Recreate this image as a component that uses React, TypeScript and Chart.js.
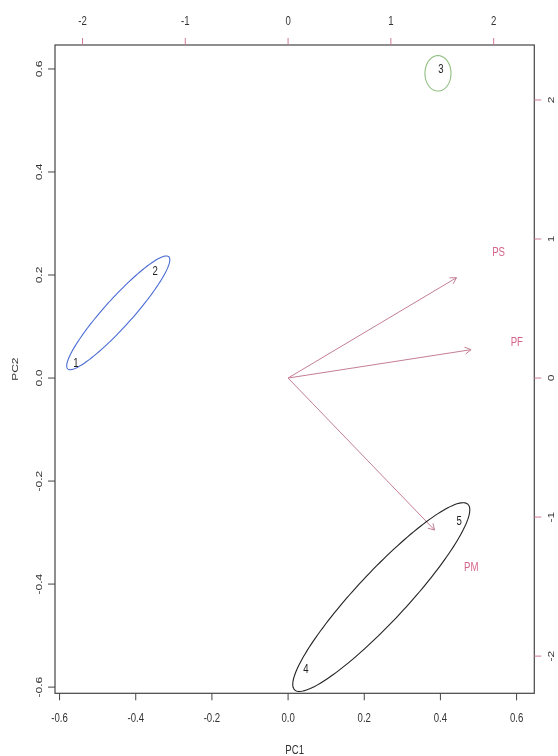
import React, { useEffect, useRef } from 'react';
import { Chart, registerables } from 'chart.js';

Chart.register(...registerables);

// ---- data ----
const scoreLabels = ['1', '2', '3', '4', '5'];
const pc1Scores = [-0.557, -0.349, 0.401, 0.047, 0.449];
const pc2Scores = [0.028, 0.207, 0.598, -0.566, -0.278];

const variableLabels = ['PS', 'PF', 'PM'];
const loadingPC1 = [2.048, 2.225, 1.782];
const loadingPC2 = [0.902, 0.255, -1.367];
const arrowShrink = 0.8;

const primaryTicks = [-0.6, -0.4, -0.2, 0, 0.2, 0.4, 0.6];
const primaryTickLabels = ['-0.6', '-0.4', '-0.2', '0.0', '0.2', '0.4', '0.6'];
const secondaryTicks = [-2, -1, 0, 1, 2];
const secondaryTickLabels = ['-2', '-1', '0', '1', '2'];

const primaryMin = -0.612;
const primaryMax = 0.6465;
const secondaryRatio = 3.705;

// group ellipses: centre, half major-axis vector, half minor-axis vector (PC units)
const groupCenterX = [-0.4459, 0.3936, 0.2447];
const groupCenterY = [0.1266, 0.5915, -0.4252];
const groupMajorX = [0.1326, 0.0342, 0.2274];
const groupMajorY = [0.1089, 0.0, 0.1802];
const groupMinorX = [0.0273, 0.0, 0.0481];
const groupMinorY = [-0.0182, 0.0344, -0.0331];
const groupColors = ['#4a6cd4', '#8fbf80', '#222222'];

const xTitle = 'PC1';
const yTitle = 'PC2';

// ---- styles ----
const FONT = '"Liberation Sans", Arial, sans-serif';
const TEXT_SX = 0.8;
const ARROW_COLOR = '#c47e93';
const VAR_TEXT_COLOR = '#d4658a';
const AXIS2_COLOR = '#d07a95';
const BOX_COLOR = '#444444';

function drawText(
  ctx: CanvasRenderingContext2D,
  text: string,
  x: number,
  y: number,
  color: string,
  size: number,
  rotate = false
) {
  ctx.save();
  ctx.translate(x, y);
  ctx.scale(TEXT_SX, 1);
  if (rotate) ctx.rotate(-Math.PI / 2);
  ctx.font = `${size}px ${FONT}`;
  ctx.fillStyle = color;
  ctx.textAlign = 'center';
  ctx.textBaseline = 'middle';
  ctx.fillText(text, 0, 0);
  ctx.restore();
}

const biplotPlugin = {
  id: 'biplotPlugin',
  afterDatasetsDraw(chart: any) {
    const ctx: CanvasRenderingContext2D = chart.ctx;
    const { x, y, x2, y2 } = chart.scales;
    const area = chart.chartArea;

    // ellipses
    for (let g = 0; g < groupCenterX.length; g++) {
      ctx.save();
      ctx.beginPath();
      const n = 160;
      for (let i = 0; i <= n; i++) {
        const t = (i / n) * Math.PI * 2;
        const vx = groupCenterX[g] + Math.cos(t) * groupMajorX[g] + Math.sin(t) * groupMinorX[g];
        const vy = groupCenterY[g] + Math.cos(t) * groupMajorY[g] + Math.sin(t) * groupMinorY[g];
        const px = x.getPixelForValue(vx);
        const py = y.getPixelForValue(vy);
        if (i === 0) ctx.moveTo(px, py);
        else ctx.lineTo(px, py);
      }
      ctx.closePath();
      ctx.strokeStyle = groupColors[g];
      ctx.lineWidth = 1.1;
      ctx.stroke();
      ctx.restore();
    }

    // arrowheads
    chart.data.datasets.forEach((ds: any, di: number) => {
      if (ds.kind !== 'arrow') return;
      const meta = chart.getDatasetMeta(di);
      const p0 = meta.data[0];
      const p1 = meta.data[1];
      const ang = Math.atan2(p1.y - p0.y, p1.x - p0.x);
      const len = 7;
      ctx.save();
      ctx.strokeStyle = ARROW_COLOR;
      ctx.lineWidth = 1;
      ctx.beginPath();
      ctx.moveTo(p1.x - len * Math.cos(ang - Math.PI / 6), p1.y - len * Math.sin(ang - Math.PI / 6));
      ctx.lineTo(p1.x, p1.y);
      ctx.lineTo(p1.x - len * Math.cos(ang + Math.PI / 6), p1.y - len * Math.sin(ang + Math.PI / 6));
      ctx.stroke();
      ctx.restore();
    });

    // point labels
    chart.data.datasets.forEach((ds: any, di: number) => {
      if (ds.kind !== 'scores' && ds.kind !== 'vars') return;
      const meta = chart.getDatasetMeta(di);
      meta.data.forEach((el: any, i: number) => {
        const label = ds.labels[i];
        if (ds.kind === 'scores') drawText(ctx, label, el.x, el.y, '#222222', 12);
        else drawText(ctx, label, el.x, el.y, VAR_TEXT_COLOR, 12);
      });
    });

    // box
    ctx.save();
    ctx.strokeStyle = BOX_COLOR;
    ctx.lineWidth = 1.2;
    ctx.strokeRect(area.left, area.top, area.right - area.left, area.bottom - area.top);

    const tickLen = 7;
    // bottom
    ctx.strokeStyle = BOX_COLOR;
    ctx.lineWidth = 1;
    primaryTicks.forEach((v, i) => {
      const px = x.getPixelForValue(v);
      ctx.beginPath();
      ctx.moveTo(px, area.bottom);
      ctx.lineTo(px, area.bottom + tickLen);
      ctx.stroke();
      drawText(ctx, primaryTickLabels[i], px, area.bottom + 25, '#333333', 12);
    });
    // left
    primaryTicks.forEach((v, i) => {
      const py = y.getPixelForValue(v);
      ctx.beginPath();
      ctx.moveTo(area.left, py);
      ctx.lineTo(area.left - tickLen, py);
      ctx.stroke();
      drawText(ctx, primaryTickLabels[i], area.left - 16, py, '#333333', 12, true);
    });
    // top
    ctx.strokeStyle = AXIS2_COLOR;
    secondaryTicks.forEach((v, i) => {
      const px = x2.getPixelForValue(v);
      ctx.beginPath();
      ctx.moveTo(px, area.top);
      ctx.lineTo(px, area.top - tickLen);
      ctx.stroke();
      drawText(ctx, secondaryTickLabels[i], px, area.top - 23, '#333333', 12);
    });
    // right
    secondaryTicks.forEach((v, i) => {
      const py = y2.getPixelForValue(v);
      ctx.beginPath();
      ctx.moveTo(area.right, py);
      ctx.lineTo(area.right + tickLen, py);
      ctx.stroke();
      drawText(ctx, secondaryTickLabels[i], area.right + 17, py, '#333333', 12, true);
    });
    ctx.restore();

    // axis titles
    drawText(ctx, xTitle, (area.left + area.right) / 2, area.bottom + 57, '#333333', 12);
    drawText(ctx, yTitle, area.left - 40, (area.top + area.bottom) / 2, '#333333', 12, true);
  },
};

export default function App() {
  const canvasRef = useRef<HTMLCanvasElement | null>(null);

  useEffect(() => {
    const canvas = canvasRef.current;
    if (!canvas) return;

    const arrowDatasets = variableLabels.map((name, i) => ({
      kind: 'arrow',
      label: name,
      type: 'scatter' as const,
      data: [
        { x: 0, y: 0 },
        { x: loadingPC1[i] * arrowShrink, y: loadingPC2[i] * arrowShrink },
      ],
      xAxisID: 'x2',
      yAxisID: 'y2',
      showLine: true,
      borderColor: ARROW_COLOR,
      borderWidth: 1,
      pointRadius: 0,
      pointHoverRadius: 0,
    }));

    const chart = new Chart(canvas, {
      type: 'scatter',
      data: {
        datasets: [
          ...arrowDatasets,
          {
            kind: 'scores',
            label: 'scores',
            labels: scoreLabels,
            data: pc1Scores.map((v, i) => ({ x: v, y: pc2Scores[i] })),
            xAxisID: 'x',
            yAxisID: 'y',
            pointRadius: 0,
            pointHoverRadius: 0,
          },
          {
            kind: 'vars',
            label: 'variables',
            labels: variableLabels,
            data: loadingPC1.map((v, i) => ({ x: v, y: loadingPC2[i] })),
            xAxisID: 'x2',
            yAxisID: 'y2',
            pointRadius: 0,
            pointHoverRadius: 0,
          },
        ] as any,
      },
      options: {
        animation: false,
        responsive: false,
        events: [],
        layout: { padding: { left: 55, right: 23.7, top: 45, bottom: 62.7 } },
        plugins: { legend: { display: false }, tooltip: { enabled: false } },
        scales: {
          x: { type: 'linear', display: false, min: primaryMin, max: primaryMax },
          y: { type: 'linear', display: false, min: primaryMin, max: primaryMax },
          x2: {
            type: 'linear',
            display: false,
            position: 'top',
            min: primaryMin * secondaryRatio,
            max: primaryMax * secondaryRatio,
          },
          y2: {
            type: 'linear',
            display: false,
            position: 'right',
            min: primaryMin * secondaryRatio,
            max: primaryMax * secondaryRatio,
          },
        },
      },
      plugins: [biplotPlugin],
    });

    return () => chart.destroy();
  }, []);

  return (
    <div style={{ position: 'absolute', left: 0, top: 0, width: 558, height: 756, background: '#ffffff' }}>
      <canvas ref={canvasRef} width={558} height={756} style={{ display: 'block' }} />
    </div>
  );
}
